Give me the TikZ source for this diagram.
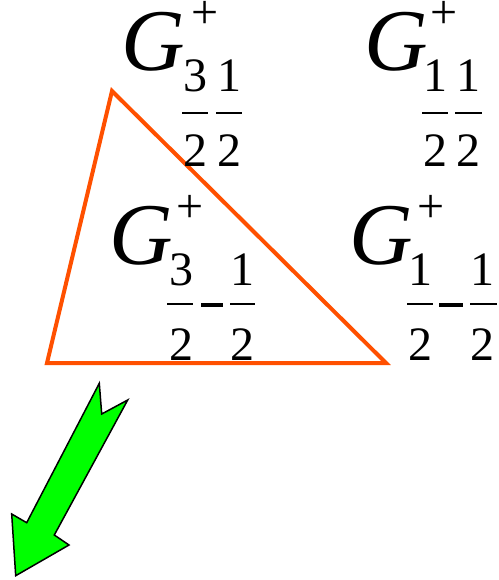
\documentclass[tikz,border=0pt]{standalone}
\usepackage{fontspec}
\setmainfont{Liberation Serif}
\definecolor{triorange}{RGB}{255,80,0}
\definecolor{arrgreen}{RGB}{0,255,0}
\tikzset{
  bigG/.style={inner sep=0pt, anchor=base west, font=\fontsize{88}{88}\selectfont\itshape},
  small/.style={inner sep=0pt, anchor=base, font=\fontsize{48}{48}\selectfont},
  fbar/.style={line width=2pt},
  fminus/.style={line width=4pt},
  tri/.style={draw=triorange, line width=4pt, line join=miter},
  bigarrow/.style={fill=arrgreen, draw=black, line width=1.5pt, line join=miter}
}
\begin{document}
\begin{tikzpicture}[x=1pt,y=-1pt]
\useasboundingbox (0,0) rectangle (498,580);
% triangle
\draw[tri] (112,91) -- (47,363) -- (386,363) -- cycle;
% label A (top-left)
\node[bigG] (gA) at (121,71) {G};
\node[small] (pA) at (205,29) {+};
\node[small] (nA1) at (195,92) {3};
\node[small] (dA1) at (195,166) {2};
\node[small] (nA2) at (229,92) {1};
\node[small] (dA2) at (229,166) {2};
\draw[fbar] (182,113) -- (208,113);
\draw[fbar] (216,113) -- (242,113);
% label B (top-right)
\node[bigG] (gB) at (364,71) {G};
\node[small] (pB) at (444,29) {+};
\node[small] (nB1) at (435,92) {1};
\node[small] (dB1) at (435,166) {2};
\node[small] (nB2) at (468,92) {1};
\node[small] (dB2) at (468,166) {2};
\draw[fbar] (422,113) -- (448,113);
\draw[fbar] (455,113) -- (482,113);
% label C (middle-left)
\node[bigG] (gC) at (109,264) {G};
\node[small] (pC) at (190,222.5) {+};
\node[small] (nC1) at (181,285) {3};
\node[small] (dC1) at (181,360) {2};
\node[small] (nC2) at (242,285) {1};
\node[small] (dC2) at (242,360) {2};
\draw[fbar] (167,304) -- (193,304);
\draw[fminus] (201,305) -- (223,305);
\draw[fbar] (230,304) -- (255,304);
% label D (middle-right)
\node[bigG] (gD) at (349,264) {G};
\node[small] (pD) at (431,222.5) {+};
\node[small] (nD1) at (420,285) {1};
\node[small] (dD1) at (420,360) {2};
\node[small] (nD2) at (482,285) {1};
\node[small] (dD2) at (482,360) {2};
\draw[fbar] (407,304) -- (433,304);
\draw[fminus] (439,305) -- (463,305);
\draw[fbar] (470,304) -- (497,304);
% green arrow
\draw[bigarrow] (99.3,383.3) -- (101.7,414) -- (127.7,400) -- (54.3,535) -- (69,545)
  -- (15.7,575.7) -- (11.7,514) -- (26.7,522.7) -- cycle;
\end{tikzpicture}
\end{document}
